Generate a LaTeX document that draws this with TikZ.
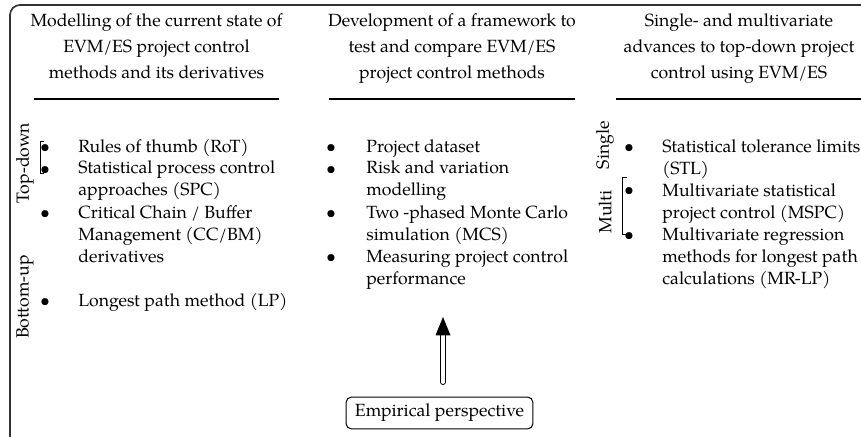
\documentclass[tikz,border=0pt]{standalone}
\usepackage{fontspec}
\setmainfont{TeX Gyre Pagella}
\usetikzlibrary{arrows.meta}

\begin{document}
\begin{tikzpicture}[x=0.6pt,y=-0.6pt,
  every node/.style={inner sep=0pt, font=\fontsize{10.6}{13.2}\selectfont},
  % multi-line nodes sit on the baseline of their last line
  item/.style={anchor=base west, align=left},
  dot/.style={anchor=base},
  heading/.style={anchor=base, align=center, font=\fontsize{10.6}{15.6}\selectfont},
  side/.style={rotate=90, anchor=center},
  rule/.style={line width=0.9pt},
  bracket/.style={line width=0.6pt},
  frame/.style={line width=1pt, draw=black!80, rounded corners=6pt},
  box/.style={draw, line width=0.6pt, rounded corners=3pt,
              minimum width=112pt, minimum height=19pt}]
\useasboundingbox (0,0) rectangle (861,437);

% outer frame, only its top and left sides fall inside the page
\begin{scope}
  \clip (0,0) rectangle (861,437);
  \draw[frame] (10,5) rectangle (900,480);
\end{scope}

% column headings
\node[heading] (h1) at (156.5,79) {Modelling of the current state of\\EVM/ES project control\\methods and its derivatives};
\node[heading] (h2) at (452,79) {Development of a framework to\\test and compare EVM/ES\\project control methods};
\node[heading] (h3) at (739,79) {Single- and multivariate\\advances to top-down project\\control using EVM/ES};
\draw[rule] (34,99) -- (279,99);
\draw[rule] (329,99) -- (575,99);
\draw[rule] (616,99) -- (862,99);

% column 1
\node[dot] (b11) at (45,153) {\textbullet};
\node[dot] (b12) at (45,175) {\textbullet};
\node[dot] (b13) at (45,219) {\textbullet};
\node[dot] (b14) at (45,307) {\textbullet};
\node[item] (i11) at (78,153) {Rules of thumb (RoT)};
\node[item] (i12) at (78,196) {Statistical process control\\approaches (SPC)};
\node[item] (i13) at (78,263) {Critical Chain / Buffer\\Management (CC/BM)\\derivatives};
\node[item] (i14) at (78,307) {Longest path method (LP)};
\draw[bracket] (44,142) -- (40,142) -- (40,174) -- (44,174);
\node[side] (td) at (25,163) {Top-down};
\node[side] (bu) at (25,297) {Bottom-up};

% column 2
\node[dot] (b21) at (331,153) {\textbullet};
\node[dot] (b22) at (331,175) {\textbullet};
\node[dot] (b23) at (331,219) {\textbullet};
\node[dot] (b24) at (331,263) {\textbullet};
\node[item] (i21) at (366,153) {Project dataset};
\node[item] (i22) at (366,196) {Risk and variation\\modelling};
\node[item] (i23) at (366,241) {Two -phased Monte Carlo\\simulation (MCS)};
\node[item] (i24) at (366,285) {Measuring project control\\performance};

% column 3
\node[dot] (b31) at (629,153) {\textbullet};
\node[dot] (b32) at (629,196) {\textbullet};
\node[dot] (b33) at (629,241) {\textbullet};
\node[item] (i31) at (662,175) {Statistical tolerance limits\\(STL)};
\node[item] (i32) at (662,219) {Multivariate statistical\\project control (MSPC)};
\node[item] (i33) at (662,285) {Multivariate regression\\methods for longest path\\calculations (MR-LP)};
\draw[bracket] (627,178) -- (622,178) -- (622,235) -- (627,235);
\node[side] (sg) at (605,145) {Single};
\node[side] (mu) at (605,212) {Multi};

% empirical perspective and its hollow arrow
\node[box] (emp) at (439.5,413) {Empirical perspective};
\coordinate (foot) at (443,382);
\coordinate (neck) at (443,334);
\coordinate (tip) at (443,317);
\draw[line width=0.6pt, double distance=2.4pt, line cap=round] (foot) -- (neck);
\fill (tip) -- ([xshift=-4.5pt,yshift=-11pt]tip) -- ([xshift=4.5pt,yshift=-11pt]tip) -- cycle;
\end{tikzpicture}
\end{document}
